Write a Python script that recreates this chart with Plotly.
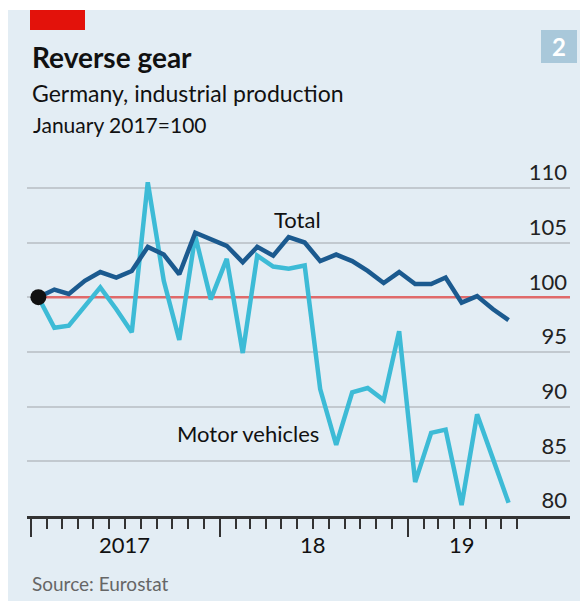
import pandas as pd
import plotly.graph_objects as go

# monthly index, January 2017 = 100 (points sit mid-month)
months = pd.date_range("2017-01-01", "2019-07-01", freq="MS") + pd.Timedelta(days=14)
total = [100.0, 100.7, 100.3, 101.5, 102.3, 101.8, 102.4, 104.6, 103.9, 102.1,
         105.9, 105.3, 104.7, 103.2, 104.6, 103.8, 105.5, 105.0, 103.3, 103.9,
         103.3, 102.4, 101.3, 102.3, 101.2, 101.2, 101.8, 99.5, 100.1, 98.9, 97.9]
motor = [100.0, 97.2, 97.4, 99.2, 100.9, 98.9, 96.8, 110.5, 101.5, 96.1,
         105.6, 99.8, 103.5, 94.9, 103.8, 102.8, 102.6, 102.9, 91.6, 86.5,
         91.3, 91.7, 90.6, 96.9, 83.1, 87.6, 87.9, 81.0, 89.3, 85.2, 81.2]

y_ticks = [80, 85, 90, 95, 100, 105, 110]
year_ticks = ["2017-01-01", "2018-01-01", "2019-01-01"]
month_ticks = pd.date_range("2017-01-01", "2019-08-01", freq="MS")
year_labels = ["2017", "18", "19"]
year_label_pos = ["2017-07-01", "2018-07-01", "2019-04-16"]

BG = "#e3edf4"
DARK = "#1b5a8f"
LIGHT = "#3dbbd6"
FONT = "Lato"

# pixel -> paper helpers (plot area is 27..570 wide, 155..516 tall)
L, R, T, B = 27, 10, 155, 85
W, H = 580, 601
def px(x):
    return (x - L) / (W - L - R)
def py(y):
    return (H - B - y) / (H - T - B)

fig = go.Figure()
fig.add_trace(go.Scatter(x=months, y=motor, mode="lines",
                         line=dict(color=LIGHT, width=4.5), hoverinfo="skip"))
fig.add_trace(go.Scatter(x=months, y=total, mode="lines",
                         line=dict(color=DARK, width=4.5), hoverinfo="skip"))
fig.add_trace(go.Scatter(x=[months[0]], y=[total[0]], mode="markers",
                         marker=dict(size=16, color="#111"), hoverinfo="skip"))

shapes = [
    # red baseline at 100
    dict(type="line", xref="x", yref="y", x0=months[0], x1="2019-11-11", y0=100, y1=100,
         line=dict(color="#e06a6a", width=2.5), layer="between"),
    # white frame strips
    dict(type="rect", xref="paper", yref="paper", x0=px(-5), x1=px(8), y0=py(610), y1=py(-5),
         fillcolor="white", line_width=0, layer="below"),
    dict(type="rect", xref="paper", yref="paper", x0=px(-5), x1=px(590), y0=py(10), y1=py(-5),
         fillcolor="white", line_width=0, layer="below"),
    # red tag
    dict(type="rect", xref="paper", yref="paper", x0=px(30), x1=px(85), y0=py(30), y1=py(10),
         fillcolor="#e3120b", line_width=0),
    # chart number box
    dict(type="rect", xref="paper", yref="paper", x0=px(541), x1=px(577), y0=py(63), y1=py(30),
         fillcolor="#a9c8da", line_width=0),
]

annotations = [
    dict(text="<b>Reverse gear</b>", x=px(30), y=py(56.7), font=dict(size=28, color="#111")),
    dict(text="Germany, industrial production", x=px(30), y=py(93.3), font=dict(size=23, color="#111")),
    dict(text="January 2017=100", x=px(31), y=py(125), font=dict(size=21, color="#111")),
    dict(text="Source: Eurostat", x=px(30), y=py(583), font=dict(size=19, color="#666")),
]
for a in annotations:
    a.update(xref="paper", yref="paper", xanchor="left", yanchor="middle", showarrow=False)

annotations.append(dict(text="<b>2</b>", xref="paper", yref="paper", x=px(559), y=py(46.5),
                        xanchor="center", yanchor="middle", showarrow=False,
                        font=dict(size=24, color="white")))
for lab, pos in zip(year_labels, year_label_pos):
    annotations.append(dict(text=lab, xref="x", yref="paper", x=pos, y=py(544),
                            xanchor="center", yanchor="middle", showarrow=False,
                            font=dict(size=22, color="#111")))
annotations.append(dict(text="Total", xref="x", yref="y", x="2018-06-01", y=107.1,
                        xanchor="center", yanchor="middle", showarrow=False,
                        font=dict(size=22, color="#111")))
annotations.append(dict(text="Motor vehicles", xref="x", yref="y", x="2018-02-25", y=87.5,
                        xanchor="center", yanchor="middle", showarrow=False,
                        font=dict(size=22, color="#111")))

fig.update_layout(
    width=W, height=H,
    margin=dict(l=L, r=R, t=T, b=B, pad=0),
    paper_bgcolor=BG, plot_bgcolor=BG,
    showlegend=False,
    font=dict(family=FONT),
    shapes=shapes,
    annotations=annotations,
    xaxis=dict(
        type="date", range=["2016-12-24", "2019-11-11"],
        showgrid=False, zeroline=False,
        showline=True, linecolor="#333", linewidth=2.5,
        ticks="outside", tickvals=year_ticks, ticklen=18, tickwidth=2, tickcolor="#333",
        showticklabels=False,
        minor=dict(tickmode="array", tickvals=list(month_ticks), ticks="outside",
                   ticklen=10, tickwidth=2, tickcolor="#333", showgrid=False),
    ),
    yaxis=dict(
        side="right", range=[80, 113], tickvals=y_ticks,
        ticklabelposition="inside top", ticks="",
        showgrid=True, gridcolor="#c2c9cf", gridwidth=2,
        zeroline=False, showline=False,
        tickfont=dict(size=22, color="#222"),
    ),
)

# drop the browser's default body margin so the 580x601 figure fills the window
fig.write_html("out.html", config={"displayModeBar": False},
               post_script="document.body.style.margin='0';")
